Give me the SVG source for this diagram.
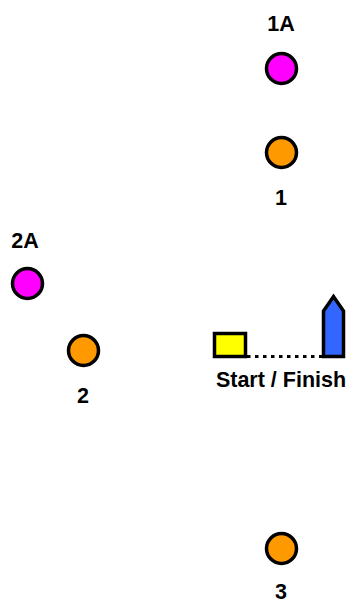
<svg xmlns="http://www.w3.org/2000/svg" width="349" height="603" viewBox="0 0 349 603">
<style>
.lbl{font-family:"Liberation Sans",Arial,sans-serif;font-weight:bold;font-size:21.5px;fill:#000;text-anchor:middle}
.mark{stroke:#000;stroke-width:3.5}
.orange{fill:#ff9900}
.pink{fill:#ff00ff}
</style>
<rect width="349" height="603" fill="#fff"/>
<g id="connectors">
<line x1="247" y1="356.5" x2="322" y2="356.5" stroke="#000" stroke-width="3" stroke-dasharray="3.5,4.5"/>
</g>
<g id="mark-1A"><circle class="mark pink" cx="281.5" cy="68.5" r="15"/><text class="lbl" x="281" y="30.5">1A</text></g>
<g id="mark-1"><circle class="mark orange" cx="281.5" cy="152.5" r="15"/><text class="lbl" x="281" y="205">1</text></g>
<g id="mark-2A"><circle class="mark pink" cx="27.5" cy="283.5" r="15"/><text class="lbl" x="25" y="248">2A</text></g>
<g id="mark-2"><circle class="mark orange" cx="83.5" cy="350.5" r="15"/><text class="lbl" x="83" y="403">2</text></g>
<g id="mark-3"><circle class="mark orange" cx="281.5" cy="548.5" r="15"/><text class="lbl" x="281" y="598.5">3</text></g>
<g id="start-finish">
<rect class="mark" x="214.5" y="333.5" width="31" height="23" fill="#ffff00"/>
<path class="mark" d="M323.5,356.5 L323.5,311 L333.5,296.5 L343.5,311 L343.5,356.5 Z" fill="#3366ff" stroke-linejoin="miter"/>
<text class="lbl" x="281" y="387">Start / Finish</text>
</g>
</svg>
